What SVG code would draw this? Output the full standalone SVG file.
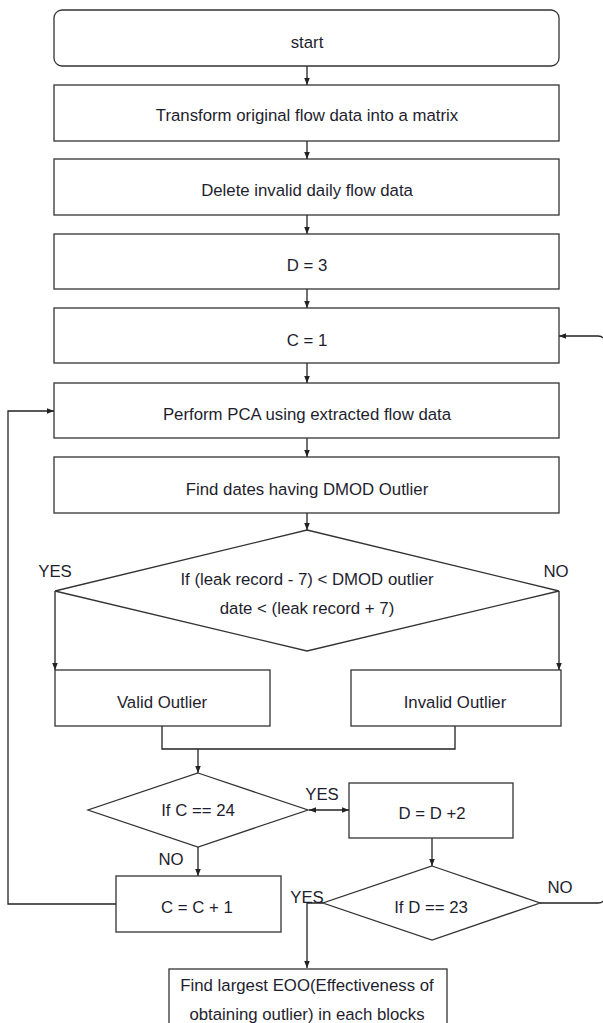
<svg xmlns="http://www.w3.org/2000/svg" width="603" height="1023" viewBox="0 0 603 1023">
<defs>
<style>
.n{fill:#fff;stroke:#333;stroke-width:1.3}
.t{font-family:"Liberation Sans",Arial,sans-serif;font-size:16.8px;fill:#1e1e2e;text-anchor:middle}
.c{fill:none;stroke:#222;stroke-width:1.3}
</style>
<marker id="ah" viewBox="0 0 10 10" refX="10" refY="5" markerWidth="7" markerHeight="7" orient="auto-start-reverse" markerUnits="userSpaceOnUse">
<path d="M0,1 L10,5 L0,9 Z" fill="#222"/>
</marker>
</defs>
<rect width="603" height="1023" fill="#fff"/>
<g id="connectors">
<path class="c" d="M307,66 V85" marker-end="url(#ah)"/>
<path class="c" d="M307,141 V159" marker-end="url(#ah)"/>
<path class="c" d="M307,215 V234" marker-end="url(#ah)"/>
<path class="c" d="M307,289 V308" marker-end="url(#ah)"/>
<path class="c" d="M307,363 V383" marker-end="url(#ah)"/>
<path class="c" d="M307,438 V457" marker-end="url(#ah)"/>
<path class="c" d="M307,513 V530" marker-end="url(#ah)"/>
<path class="c" d="M55,591 V670" marker-end="url(#ah)"/>
<path class="c" d="M559,591 V670" marker-end="url(#ah)"/>
<path class="c" d="M162,726 V749 H455 V726"/>
<path class="c" d="M198,749 V773" marker-end="url(#ah)"/>
<path class="c" d="M198,847 V876" marker-end="url(#ah)"/>
<path class="c" d="M309,810 H349" marker-start="url(#ah)" marker-end="url(#ah)"/>
<path class="c" d="M432,838 V866" marker-end="url(#ah)"/>
<path class="c" d="M116,904 H8 V411 H54" marker-end="url(#ah)"/>
<path class="c" d="M323,903 H307 V968" marker-end="url(#ah)"/>
<path class="c" d="M540,903 H598 Q602,903 603,901"/>
<path class="c" d="M603,338 Q602,336 598,336 H559" marker-end="url(#ah)"/>
</g>
<g id="start"><rect class="n" x="54" y="10" width="505" height="56" rx="8"/><text class="t" x="307" y="48">start</text></g>
<g id="transform"><rect class="n" x="54" y="85" width="505" height="56"/><text class="t" x="307" y="121">Transform original flow data into a matrix</text></g>
<g id="delete"><rect class="n" x="54" y="159" width="505" height="56"/><text class="t" x="307" y="196">Delete invalid daily flow data</text></g>
<g id="d3"><rect class="n" x="54" y="234" width="505" height="55"/><text class="t" x="307" y="271">D = 3</text></g>
<g id="c1"><rect class="n" x="54" y="308" width="505" height="55"/><text class="t" x="307" y="346">C = 1</text></g>
<g id="pca"><rect class="n" x="54" y="383" width="505" height="55"/><text class="t" x="307" y="420">Perform PCA using extracted flow data</text></g>
<g id="finddates"><rect class="n" x="54" y="457" width="505" height="56"/><text class="t" x="307" y="495">Find dates having DMOD Outlier</text></g>
<g id="decision1"><polygon class="n" points="307,530 559,591 307,651 55,591"/>
<text class="t" x="307" y="585">If (leak record - 7) &lt; DMOD outlier</text>
<text class="t" x="307" y="614">date &lt; (leak record + 7)</text>
<text class="t" x="55" y="577">YES</text><text class="t" x="556" y="577">NO</text></g>
<g id="valid"><rect class="n" x="55" y="670" width="215" height="56"/><text class="t" x="162" y="708">Valid Outlier</text></g>
<g id="invalid"><rect class="n" x="351" y="670" width="210" height="56"/><text class="t" x="455" y="708">Invalid Outlier</text></g>
<g id="ifc"><polygon class="n" points="198,773 308,810 198,847 88,810"/><text class="t" x="198" y="816">If C == 24</text>
<text class="t" x="322" y="800">YES</text><text class="t" x="171" y="865">NO</text></g>
<g id="dplus"><rect class="n" x="349" y="783" width="164" height="55"/><text class="t" x="432" y="819">D = D +2</text></g>
<g id="cplus"><rect class="n" x="116" y="876" width="165" height="56"/><text class="t" x="197" y="913">C = C + 1</text></g>
<g id="ifd"><polygon class="n" points="432,866 540,903 432,940 323,903"/><text class="t" x="431" y="913">If D == 23</text>
<text class="t" x="307" y="903">YES</text><text class="t" x="560" y="893">NO</text></g>
<g id="final"><rect class="n" x="169" y="969" width="278" height="60"/>
<text class="t" x="307" y="991">Find largest EOO(Effectiveness of</text>
<text class="t" x="307" y="1020">obtaining outlier) in each blocks</text></g>
</svg>
